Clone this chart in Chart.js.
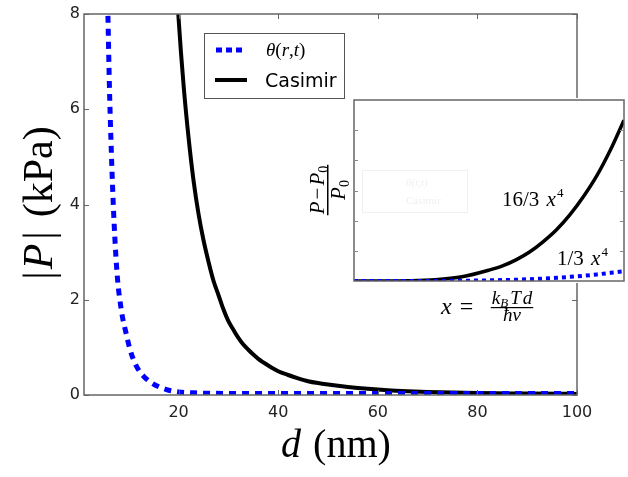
<!DOCTYPE html>
<html>
<head>
<meta charset="utf-8">
<script src="https://cdn.jsdelivr.net/npm/chart.js@4.4.1/dist/chart.umd.min.js"></script>
<style>
  html, body { margin: 0; padding: 0; background: #fff; }
  #wrap { position: relative; width: 628px; height: 477px; }
  #main { position: absolute; left: 0; top: 0; }
  #inset { position: absolute; left: 352px; top: 98px; background: #fff; }
</style>
</head>
<body>
<div id="wrap">
  <canvas id="main" width="628" height="477"></canvas>
  <canvas id="inset" width="274" height="185"></canvas>
</div>
<script>
// --- main panel data (d in nm, |P| in kPa) ---
const thetaD = [5.5, 5.83, 6.1, 6.4, 6.84, 7.3, 7.8, 8.2, 8.7, 9.45, 10.2, 11.1, 12, 13.1, 14.5, 16.1, 18, 20, 23, 27, 35, 50, 70, 100];
const thetaP = [9.6, 7.85, 6.5, 5.4, 4.1, 3.1, 2.35, 2.0, 1.65, 1.3, 0.97, 0.7, 0.52, 0.38, 0.26, 0.17, 0.1, 0.065, 0.045, 0.035, 0.03, 0.03, 0.03, 0.03];
const casimirD = [19, 20, 21, 22, 23, 24, 25, 26, 27, 28, 29, 30, 31, 32, 33, 34, 35, 36, 38, 40, 42, 44, 46, 48, 50, 54, 58, 62, 66, 70, 75, 80, 90, 100];
const casimirP = [9.7, 7.9, 6.5, 5.4, 4.5, 3.8, 3.25, 2.8, 2.4, 2.1, 1.8, 1.55, 1.37, 1.2, 1.06, 0.95, 0.85, 0.76, 0.62, 0.5, 0.42, 0.35, 0.29, 0.25, 0.22, 0.17, 0.13, 0.1, 0.08, 0.065, 0.05, 0.04, 0.03, 0.022];
const xTicks = [20, 40, 60, 80, 100];
const yTicks = [0, 2, 4, 6, 8];

// --- inset data (x = kB T d / hbar v, relative change) ---
const insetX = [0, 0.1, 0.2, 0.3, 0.4, 0.5, 0.55, 0.6, 0.65, 0.7, 0.75, 0.8, 0.85, 0.9, 0.95, 1.0];
const insetCasimir = [0, 0.001, 0.009, 0.043, 0.14, 0.36, 0.5, 0.7, 0.96, 1.3, 1.7, 2.2, 2.8, 3.5, 4.35, 5.33];
const insetTheta = [0, 0, 0.001, 0.003, 0.009, 0.021, 0.03, 0.043, 0.06, 0.08, 0.105, 0.137, 0.174, 0.219, 0.27, 0.32];
const insetYTicks = [1, 2, 3, 4, 5];

const BLUE = '#0000ff';
const FRAME = '#666';
const SERIF = '"Liberation Serif", "DejaVu Serif", serif';
const SANS = '"DejaVu Sans", sans-serif';

const pts = (xs, ys) => xs.map((x, i) => ({ x: x, y: ys[i] }));

// draw a run of text pieces [{t, font, dy}] starting at x, baseline y
function drawRun(ctx, parts, x, y, align) {
  let total = 0;
  parts.forEach(p => { ctx.font = p.font; p.w = ctx.measureText(p.t).width + (p.gap || 0); total += p.w; });
  let cx = align === 'center' ? x - total / 2 : (align === 'right' ? x - total : x);
  ctx.textAlign = 'left';
  ctx.textBaseline = 'alphabetic';
  parts.forEach(p => {
    ctx.font = p.font;
    ctx.fillText(p.t, cx, y + (p.dy || 0));
    cx += p.w;
  });
  return total;
}

const mainDecor = {
  id: 'mainDecor',
  afterDraw(chart) {
    const ctx = chart.ctx;
    const a = chart.chartArea;
    const xs = chart.scales.x, ys = chart.scales.y;
    ctx.save();
    // frame
    ctx.strokeStyle = FRAME;
    ctx.lineWidth = 1.5;
    ctx.strokeRect(a.left, a.top, a.right - a.left, a.bottom - a.top);
    // inward ticks on all sides
    ctx.lineWidth = 1;
    ctx.beginPath();
    xTicks.forEach(v => {
      const px = Math.round(xs.getPixelForValue(v)) + 0.5;
      ctx.moveTo(px, a.bottom); ctx.lineTo(px, a.bottom - 5);
      ctx.moveTo(px, a.top); ctx.lineTo(px, a.top + 5);
    });
    yTicks.forEach(v => {
      const py = Math.round(ys.getPixelForValue(v)) + 0.5;
      ctx.moveTo(a.left, py); ctx.lineTo(a.left + 5, py);
      ctx.moveTo(a.right, py); ctx.lineTo(a.right - 5, py);
    });
    ctx.stroke();

    // legend
    ctx.fillStyle = '#fff';
    ctx.fillRect(204, 33, 140, 65);
    ctx.strokeStyle = '#555';
    ctx.lineWidth = 1;
    ctx.strokeRect(204.5, 33.5, 140, 65);
    ctx.lineWidth = 5;
    ctx.strokeStyle = BLUE;
    ctx.setLineDash([6, 4]);
    ctx.beginPath(); ctx.moveTo(216, 50); ctx.lineTo(243, 50); ctx.stroke();
    ctx.setLineDash([]);
    ctx.lineWidth = 4;
    ctx.strokeStyle = '#000';
    ctx.beginPath(); ctx.moveTo(215, 80); ctx.lineTo(247, 80); ctx.stroke();
    ctx.fillStyle = '#000';
    drawRun(ctx, [
      { t: 'θ', font: 'italic 19px ' + SERIF },
      { t: '(', font: '19px ' + SERIF },
      { t: 'r', font: 'italic 19px ' + SERIF },
      { t: ',', font: '19px ' + SERIF },
      { t: 't', font: 'italic 19px ' + SERIF },
      { t: ')', font: '19px ' + SERIF }
    ], 266, 56, 'left');
    ctx.font = '19px ' + SANS;
    ctx.fillText('Casimir', 265, 87);

    // axis titles
    ctx.fillStyle = '#000';
    drawRun(ctx, [
      { t: 'd', font: 'italic 40px ' + SERIF, gap: 12 },
      { t: '(nm)', font: '40px ' + SERIF }
    ], 336, 457, 'center');

    ctx.save();
    ctx.translate(52, 203);
    ctx.rotate(-Math.PI / 2);
    drawRun(ctx, [
      { t: '|', font: '42px ' + SERIF, gap: 2 },
      { t: 'P', font: 'italic 42px ' + SERIF, gap: 4 },
      { t: '|', font: '42px ' + SERIF, gap: 14 },
      { t: '(kPa)', font: '42px ' + SERIF }
    ], 0, 0, 'center');
    ctx.restore();

    // inset y label: (P - P0) / P0
    ctx.save();
    ctx.translate(328, 190);
    ctx.rotate(-Math.PI / 2);
    const numW = drawRun(ctx, [
      { t: 'P', font: 'italic 21px ' + SERIF, gap: 2 },
      { t: '−', font: '21px ' + SERIF, gap: 2 },
      { t: 'P', font: 'italic 21px ' + SERIF },
      { t: '0', font: '14px ' + SERIF, dy: 4 }
    ], 0, -4, 'center');
    ctx.fillRect(-numW / 2 - 1, -1, numW + 2, 1.5);
    drawRun(ctx, [
      { t: 'P', font: 'italic 21px ' + SERIF },
      { t: '0', font: '14px ' + SERIF, dy: 4 }
    ], 0, 17, 'center');
    ctx.restore();

    // inset x label: x = kB T d / hbar v
    drawRun(ctx, [
      { t: 'x', font: 'italic 24px ' + SERIF, gap: 8 },
      { t: '=', font: '24px ' + SERIF }
    ], 441, 314, 'left');
    const fw = drawRun(ctx, [
      { t: 'k', font: 'italic 19px ' + SERIF },
      { t: 'B', font: 'italic 13px ' + SERIF, dy: 3, gap: 2 },
      { t: 'T', font: 'italic 19px ' + SERIF, gap: 2 },
      { t: 'd', font: 'italic 19px ' + SERIF }
    ], 512, 304, 'center');
    ctx.fillRect(512 - fw / 2 - 1, 307, fw + 2, 1.2);
    drawRun(ctx, [
      { t: 'ħ', font: 'italic 19px ' + SERIF },
      { t: 'v', font: 'italic 19px ' + SERIF }
    ], 512, 321, 'center');
    ctx.restore();
  }
};

new Chart(document.getElementById('main'), {
  type: 'line',
  data: {
    datasets: [
      {
        label: 'θ(r,t)',
        data: pts(thetaD, thetaP),
        borderColor: BLUE,
        borderWidth: 5,
        borderDash: [7, 6],
        pointRadius: 0,
        cubicInterpolationMode: 'monotone',
        fill: false,
        clip: 0
      },
      {
        label: 'Casimir',
        data: pts(casimirD, casimirP),
        borderColor: '#000',
        borderWidth: 4,
        pointRadius: 0,
        cubicInterpolationMode: 'monotone',
        fill: false,
        clip: 0
      }
    ]
  },
  options: {
    responsive: false,
    animation: false,
    layout: { padding: { left: 0, top: 14, right: 51, bottom: 0 } },
    plugins: { legend: { display: false }, tooltip: { enabled: false } },
    scales: {
      x: {
        type: 'linear',
        min: 1,
        max: 100,
        afterBuildTicks: s => { s.ticks = xTicks.map(v => ({ value: v })); },
        afterFit: s => { s.height = 82; },
        grid: { display: false, drawTicks: false },
        border: { display: false },
        ticks: { color: '#222', font: { family: SANS, size: 16 }, padding: 8, maxRotation: 0 }
      },
      y: {
        type: 'linear',
        min: 0,
        max: 8,
        afterBuildTicks: s => { s.ticks = yTicks.map(v => ({ value: v })); },
        afterFit: s => { s.width = 84; },
        grid: { display: false, drawTicks: false },
        border: { display: false },
        ticks: { color: '#222', font: { family: SANS, size: 16 }, padding: 4 }
      }
    }
  },
  plugins: [mainDecor]
});

const insetDecor = {
  id: 'insetDecor',
  beforeDraw(chart) {
    const ctx = chart.ctx;
    const a = chart.chartArea;
    ctx.save();
    ctx.fillStyle = '#fff';
    ctx.fillRect(0, 0, chart.width, chart.height);
    // faint ghost legend box
    ctx.strokeStyle = 'rgba(0,0,0,0.06)';
    ctx.lineWidth = 1;
    ctx.strokeRect(a.left + 8.5, a.top + 70.5, 105, 42);
    ctx.fillStyle = 'rgba(0,0,0,0.07)';
    ctx.font = 'italic 11px ' + SERIF;
    ctx.fillText('θ(r,t)', a.left + 52, a.top + 86);
    ctx.font = '11px ' + SERIF;
    ctx.fillText('Casimir', a.left + 52, a.top + 104);
    ctx.restore();
  },
  afterDraw(chart) {
    const ctx = chart.ctx;
    const a = chart.chartArea;
    const ys = chart.scales.y;
    ctx.save();
    ctx.strokeStyle = FRAME;
    ctx.lineWidth = 1.5;
    ctx.strokeRect(a.left, a.top, a.right - a.left, a.bottom - a.top);
    ctx.lineWidth = 1;
    ctx.strokeStyle = '#888';
    ctx.beginPath();
    insetYTicks.forEach(v => {
      const py = Math.round(ys.getPixelForValue(v)) + 0.5;
      ctx.moveTo(a.left, py); ctx.lineTo(a.left + 4, py);
      ctx.moveTo(a.right, py); ctx.lineTo(a.right - 4, py);
    });
    ctx.stroke();
    ctx.fillStyle = '#000';
    drawRun(ctx, [
      { t: '16/3 ', font: '21px ' + SERIF, gap: 2 },
      { t: 'x', font: 'italic 21px ' + SERIF, gap: 1 },
      { t: '4', font: '13px ' + SERIF, dy: -9 }
    ], a.left + 148, a.top + 106, 'left');
    drawRun(ctx, [
      { t: '1/3 ', font: '21px ' + SERIF, gap: 2 },
      { t: 'x', font: 'italic 21px ' + SERIF, gap: 1 },
      { t: '4', font: '13px ' + SERIF, dy: -9 }
    ], a.left + 203, a.top + 165, 'left');
    ctx.restore();
  }
};

new Chart(document.getElementById('inset'), {
  type: 'line',
  data: {
    datasets: [
      {
        label: 'θ(r,t)',
        data: pts(insetX, insetTheta),
        borderColor: BLUE,
        borderWidth: 4,
        borderDash: [4, 4],
        pointRadius: 0,
        cubicInterpolationMode: 'monotone',
        fill: false,
        clip: 0
      },
      {
        label: 'Casimir',
        data: pts(insetX, insetCasimir),
        borderColor: '#000',
        borderWidth: 3.5,
        pointRadius: 0,
        cubicInterpolationMode: 'monotone',
        fill: false,
        clip: 0
      }
    ]
  },
  options: {
    responsive: false,
    animation: false,
    layout: { padding: 2 },
    plugins: { legend: { display: false }, tooltip: { enabled: false } },
    scales: {
      x: { type: 'linear', min: 0, max: 1, display: false },
      y: { type: 'linear', min: 0, max: 6, display: false }
    }
  },
  plugins: [insetDecor]
});
</script>
</body>
</html>
